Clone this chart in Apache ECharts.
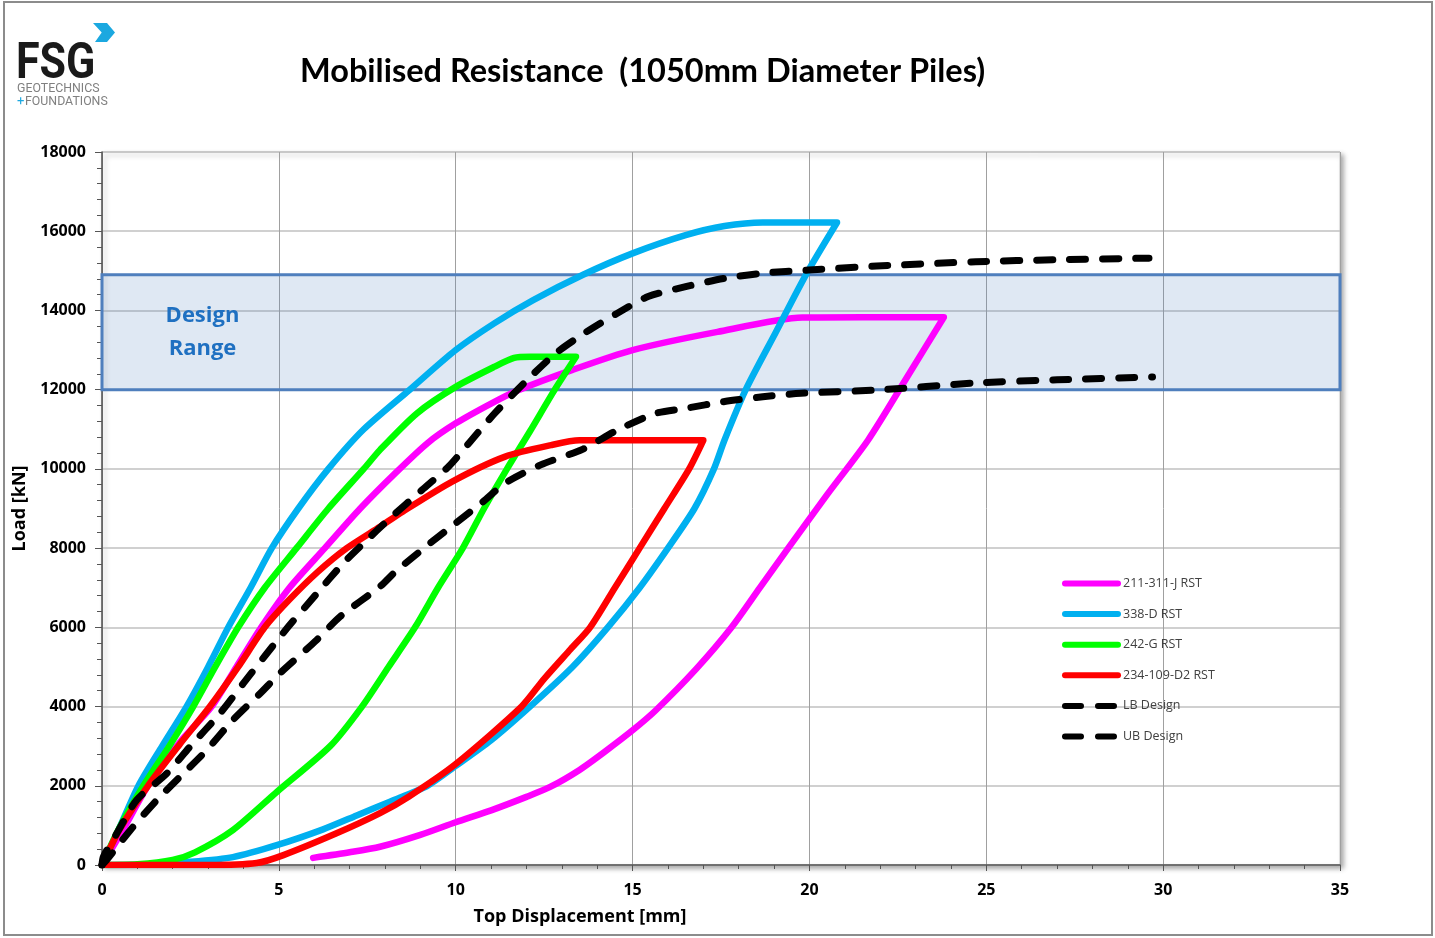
<!DOCTYPE html>
<html>
<head>
<meta charset="utf-8">
<title>Mobilised Resistance</title>
<script src="https://cdn.jsdelivr.net/npm/echarts@6.0.0/dist/echarts.min.js"></script>
<style>
  html, body { margin: 0; padding: 0; background: #fff; }
  #chart { width: 1435px; height: 938px; }
</style>
</head>
<body>
<div id="chart"></div>
<script>
// series values, [displacement mm, load kN]
var pile211 = [[0,0],[0.6,900],[1.3,2000],[2.2,3100],[3.1,4000],[3.8,5000],[4.5,6000],[5.3,7000],[6.3,8000],[7.3,9000],[8.3,9900],[9.2,10650],[10,11150],[11,11650],[11.75,11980],[13.3,12500],[15,13000],[17.4,13460],[19.8,13820],[21.5,13830],[23.8,13830],
  [22.75,12300],[21.66,10730],[20.5,9350],[19.4,8000],[18.6,7000],[17.8,6000],[16.8,4950],[15.65,3900],[15,3400],[14.2,2850],[13.5,2400],[12.67,1970],[12,1720],[11,1380],[10,1080],[9,760],[7.86,460],[7,320],[5.97,180]];
var pile338 = [[0,0],[0.5,950],[1.03,2000],[1.7,3000],[2.39,4000],[3,5000],[3.57,6000],[4.2,7000],[4.8,8000],[5.55,9000],[6.4,10000],[7.4,11000],[8.7,12000],[10,13000],[11.1,13680],[12.19,14260],[13.6,14900],[15,15440],[16.5,15900],[17.6,16130],[18.68,16220],[20.78,16220],
  [19.9,14900],[19.05,13450],[18.2,12000],[17.6,10730],[17.3,10000],[16.75,9000],[16,8000],[15.2,7000],[14.3,6000],[13.3,5000],[12.1,4000],[11,3150],[10,2500],[9.2,2000],[8.14,1600],[7.2,1250],[6.25,900],[4.94,500],[3.7,200],[2.5,80],[1.3,15],[0,0]];
var pile242 = [[0,0],[0.5,950],[1.17,2000],[1.9,3000],[2.58,4000],[3.2,5000],[3.85,6000],[4.6,7000],[5.5,8000],[6.4,9000],[7.4,10000],[7.86,10480],[8.9,11400],[10,12070],[11.1,12580],[11.65,12800],[12.1,12830],[13.4,12830],
  [12.8,12000],[12.1,10950],[11.45,10000],[10.8,9000],[10.2,8000],[9.5,7000],[8.85,6000],[8.1,5000],[7.35,4000],[6.45,3000],[4.95,1850],[3.7,880],[2.63,320],[2,130],[1,20],[0,0]];
var pile234 = [[0,0],[0.5,900],[1.3,2000],[2.2,3050],[3.05,4000],[3.85,5000],[4.6,6000],[5.3,6700],[6.1,7400],[6.92,8000],[7.86,8540],[8.5,8920],[9.9,9680],[11.4,10310],[12.7,10600],[13.5,10720],[17,10720],
  [16.6,10000],[15.9,9000],[15.2,8000],[14.5,7000],[13.8,6000],[13.25,5450],[12.5,4700],[11.86,4000],[10,2550],[8.67,1725],[7.86,1310],[6.63,800],[5.13,250],[4.37,50],[3,0],[0,0]];
var lbDesign = [[0,0],[0.13,125],[0.8,880],[1.55,1640],[2.3,2310],[2.96,2900],[3.7,3660],[4.47,4330],[5.03,4840],[6.07,5680],[6.73,6270],[7.86,7030],[8.29,7400],[9.16,8040],[10,8630],[10.77,9170],[11.4,9640],[12.4,10100],[13.6,10500],[14.57,10980],[15.65,11400],[16.5,11530],[17.6,11700],[18.68,11820],[19.76,11910],[21.9,11990],[24.7,12170],[27,12250],[29.7,12320]];
var ubDesign = [[0,0],[0.04,210],[0.42,800],[0.98,1640],[1.83,2310],[2.49,2990],[3.34,3830],[4,4590],[4.66,5340],[5.3,6050],[6.07,6850],[6.82,7620],[7.39,8120],[8.14,8750],[9.05,9470],[9.8,10060],[10.45,10730],[11.1,11400],[11.97,12200],[12.83,12920],[13.7,13460],[14.57,13930],[15.44,14350],[16.5,14600],[17.6,14810],[18.68,14940],[19.98,15020],[21.9,15120],[24.7,15230],[27,15280],[29.6,15320]];
var designRange = [12000, 14900];
var seriesNames = ['211-311-J RST', '338-D RST', '242-G RST', '234-109-D2 RST', 'LB Design', 'UB Design'];

var myChart = echarts.init(document.getElementById('chart'));

var font = '"Open Sans", sans-serif';

function curve(name, data, color, dashed) {
  return {
    name: name,
    type: 'line',
    data: data,
    symbol: 'none',
    smooth: 0.25,
    lineStyle: {
      color: color,
      width: dashed ? 7 : 6.5,
      type: dashed ? [16, 17] : 'solid',
      cap: 'round',
      join: 'round'
    },
    itemStyle: { color: color }
  };
}

var option = {
  backgroundColor: '#fff',
  animation: false,
  title: {
    text: 'Mobilised Resistance  (1050mm Diameter Piles)',
    left: 295,
    top: 50,
    textStyle: { fontFamily: 'Lato, sans-serif', fontSize: 32.5, fontWeight: 'bold', color: '#000' }
  },
  legend: {
    data: seriesNames,
    orient: 'vertical',
    left: 1062,
    top: 577,
    padding: 0,
    itemWidth: 53,
    itemHeight: 14,
    itemGap: 17.6,
    itemStyle: { opacity: 0 },
    lineStyle: { width: 6 },
    textStyle: { fontFamily: font, fontSize: 12.5, color: '#404040' }
  },
  grid: {
    show: true,
    left: 102,
    right: 95,
    top: 152,
    bottom: 73,
    backgroundColor: '#fff',
    borderColor: '#c8c8c8',
    borderWidth: 1,
    shadowBlur: 5,
    shadowColor: 'rgba(0,0,0,0.35)',
    shadowOffsetX: 3,
    shadowOffsetY: 3
  },
  xAxis: {
    type: 'value',
    min: 0,
    max: 35,
    interval: 5,
    axisLine: { show: true, lineStyle: { color: '#555', width: 1.5 } },
    axisTick: { show: true, length: 6, lineStyle: { color: '#555' } },
    minorTick: { show: true, splitNumber: 5, length: 4, lineStyle: { color: '#555' } },
    splitLine: { show: true, lineStyle: { color: '#a0a0a0', width: 1 } },
    axisLabel: { margin: 17, fontFamily: font, fontSize: 16, fontWeight: 'bold', color: '#000' }
  },
  yAxis: {
    type: 'value',
    min: 0,
    max: 18000,
    interval: 2000,
    name: 'Load [kN]',
    nameLocation: 'middle',
    nameGap: 68,
    nameTextStyle: { fontFamily: font, fontSize: 18, fontWeight: 'bold', color: '#000' },
    axisLine: { show: true, lineStyle: { color: '#555', width: 1.5 } },
    axisTick: { show: true, length: 7, lineStyle: { color: '#555' } },
    minorTick: { show: true, splitNumber: 5, length: 5, lineStyle: { color: '#555' } },
    splitLine: { show: true, lineStyle: { color: '#c0c0c0', width: 1.5 } },
    axisLabel: {
      margin: 16,
      fontFamily: font, fontSize: 16, fontWeight: 'bold', color: '#000',
      formatter: function (v) { return String(v); }
    }
  },
  graphic: [
    // chart frame
    { type: 'rect', z: -10, shape: { x: 4, y: 2, width: 1428, height: 933 }, style: { fill: null, stroke: '#8c8c8c', lineWidth: 2 } },
    // logo
    { type: 'polygon', shape: { points: [[93, 23], [107, 23], [115, 32.5], [107, 42], [95, 42], [101.7, 32.5]] }, style: { fill: '#1ba8e0' } },
    { type: 'text', x: 16, y: 40, scaleX: 0.86, style: { text: 'FSG', font: 'bold 50px Roboto, sans-serif', fill: '#1a1a1a' } },
    { type: 'text', x: 17, y: 82, scaleX: 0.95, style: { text: 'GEOTECHNICS', font: '13px Roboto, sans-serif', fill: '#808080' } },
    { type: 'text', x: 17, y: 95, style: { text: '+', font: '13px Roboto, sans-serif', fill: '#1ba8e0' } },
    { type: 'text', x: 25, y: 95, scaleX: 0.95, style: { text: 'FOUNDATIONS', font: '13px Roboto, sans-serif', fill: '#808080' } },
    // x axis name
    { type: 'text', x: 580, y: 917, z: 100, style: { text: 'Top Displacement [mm]', font: 'bold 18px "Open Sans", sans-serif', fill: '#000', align: 'center', verticalAlign: 'middle' } }
  ],
  series: [
    curve(seriesNames[0], pile211, '#ff00ff', false),
    curve(seriesNames[1], pile338, '#00b0f0', false),
    curve(seriesNames[2], pile242, '#00ff00', false),
    curve(seriesNames[3], pile234, '#ff0000', false),
    curve(seriesNames[4], lbDesign, '#000000', true),
    curve(seriesNames[5], ubDesign, '#000000', true),
    {
      name: 'Design Range',
      type: 'line',
      data: [],
      z: 10,
      markArea: {
        silent: true,
        itemStyle: { color: 'rgba(79,129,189,0.18)', borderColor: '#4f7fbd', borderWidth: 3 },
        label: {
          show: true,
          position: [102, '50%'],
          align: 'center',
          verticalAlign: 'middle',
          formatter: 'Design\nRange',
          fontFamily: font,
          fontSize: 22,
          fontWeight: 'bold',
          lineHeight: 33,
          color: '#1f70c1'
        },
        data: [[{ xAxis: 0, yAxis: designRange[0] }, { xAxis: 35, yAxis: designRange[1] }]]
      }
    }
  ]
};

myChart.setOption(option);
</script>
</body>
</html>
